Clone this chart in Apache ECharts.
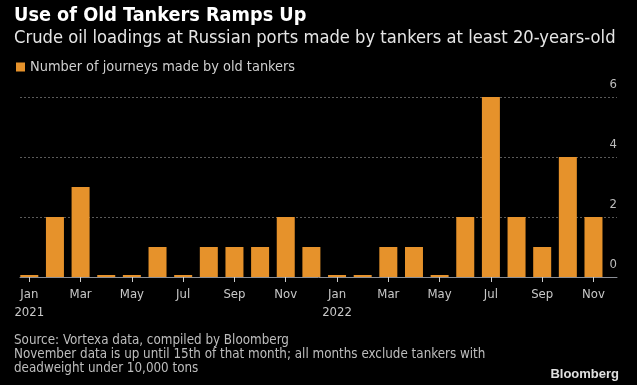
<!DOCTYPE html>
<html>
<head>
<meta charset="utf-8">
<script src="https://cdn.jsdelivr.net/npm/echarts@6/dist/echarts.min.js"></script>
<style>
html,body{margin:0;padding:0;background:#000;}
#c{width:637px;height:385px;}
</style>
</head>
<body>
<div id="c"></div>
<script>
// Data
const months = ["Jan 2021","Feb 2021","Mar 2021","Apr 2021","May 2021","Jun 2021","Jul 2021","Aug 2021","Sep 2021","Oct 2021","Nov 2021","Dec 2021",
                "Jan 2022","Feb 2022","Mar 2022","Apr 2022","May 2022","Jun 2022","Jul 2022","Aug 2022","Sep 2022","Oct 2022","Nov 2022"];
const journeys = [0,2,3,0,0,1,0,1,1,1,2,1,0,0,1,1,0,2,6,2,1,4,2];
const tickIndex = [0,2,4,6,8,10,12,14,16,18,20,22];
const tickLabels = ["Jan\n2021","Mar","May","Jul","Sep","Nov","Jan\n2022","Mar","May","Jul","Sep","Nov"];
const yTicks = [0,2,4,6];

const FONT = "'DejaVu Sans Condensed','DejaVu Sans',sans-serif";
const chart = echarts.init(document.getElementById('c'), null, {renderer:'canvas'});
chart.setOption({
  backgroundColor: '#000',
  animation: false,
  title: [
    {text: 'Use of Old Tankers Ramps Up', left: 9, top: 1,
     textStyle: {color:'#fff', fontFamily: FONT, fontWeight:'bold', fontSize: 19.7}},
    {text: 'Crude oil loadings at Russian ports made by tankers at least 20-years-old', left: 9, top: 24,
     textStyle: {color:'#e6e6e6', fontFamily: FONT, fontWeight:'normal', fontSize: 18.2}},
    {text: 'Source: Vortexa data, compiled by Bloomberg\nNovember data is up until 15th of that month; all months exclude tankers with\ndeadweight under 10,000 tons',
     left: 9, top: 329,
     textStyle: {color:'#bdbdbd', fontFamily: FONT, fontWeight:'normal', fontSize: 13.3, lineHeight: 14}},
    {text: 'Bloomberg', right: 13, top: 363,
     textStyle: {color:'#e0e0e0', fontFamily: "'Liberation Sans',Arial,sans-serif", fontWeight:'bold', fontSize: 13}}
  ],
  legend: {
    left: 11, top: 55, icon: 'rect', itemWidth: 9, itemHeight: 9, itemGap: 6,
    textStyle: {color:'#cfcfcf', fontFamily: FONT, fontSize: 14.4},
    data: ['Number of journeys made by old tankers']
  },
  grid: {left: 20, right: 20, top: 97, bottom: 108, containLabel: false},
  xAxis: {
    type: 'value', min: -0.3626, max: 22.917,
    splitLine: {show:false},
    axisLine: {show:true, onZero:false, lineStyle:{color:'#8a8e96', width:1}},
    axisTick: {show:true, length:5, customValues: tickIndex, lineStyle:{color:'#cccccc'}},
    axisLabel: {show:true, customValues: tickIndex, color:'#c8c8c8', fontFamily: FONT, fontSize: 13, lineHeight: 18, margin: 9,
      formatter: function(v){ const k = tickIndex.indexOf(Math.round(v)); return k>=0 ? tickLabels[k] : ''; }}
  },
  yAxis: {
    type: 'value', position: 'right', min: 0, max: 6, interval: 2,
    axisLine: {show:false}, axisTick: {show:false},
    splitLine: {show:true, lineStyle:{color:'#5a5a5a', type:[2,2], width:1}},
    axisLabel: {inside:true, margin:0, color:'#bdbdbd', fontFamily: FONT, fontSize: 13, verticalAlign:'bottom', padding:[0,0,6,0],
      formatter: function(v){ return yTicks.indexOf(v)>=0 ? String(v) : ''; }}
  },
  series: [{
    name: 'Number of journeys made by old tankers',
    type: 'bar',
    barWidth: 18,
    barMinHeight: 2,
    itemStyle: {color:'#e6922b'},
    data: journeys.map((v,i)=>[i,v])
  }]
});
</script>
</body>
</html>
